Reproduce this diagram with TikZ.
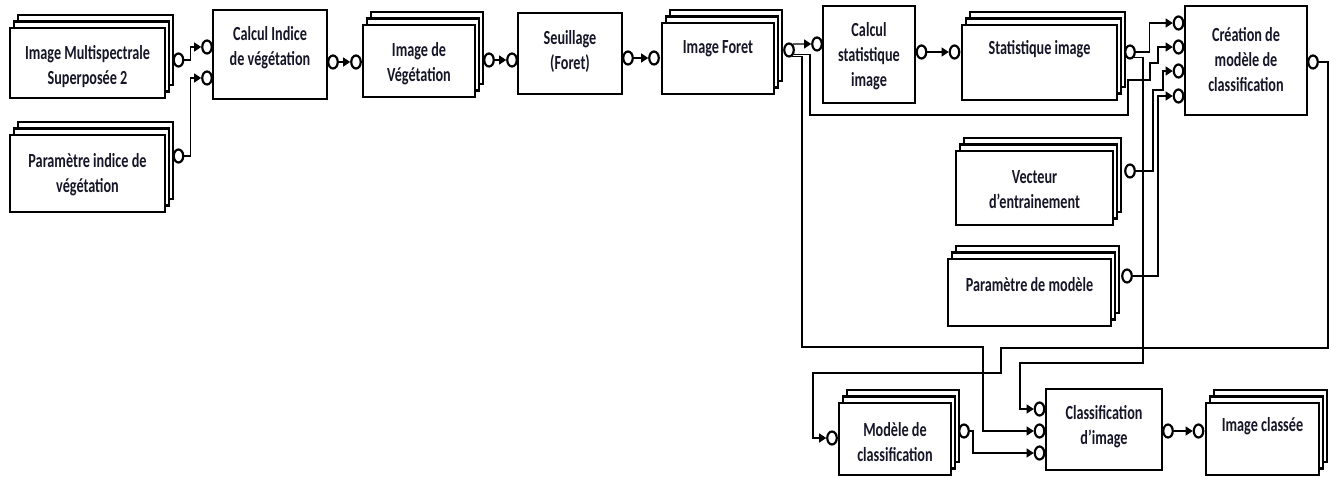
\documentclass[tikz,border=0pt]{standalone}
\usepackage{fontspec}
\setmainfont{Carlito}[FakeStretch=0.71]
\usetikzlibrary{arrows.meta,shapes.geometric,shadows}
\definecolor{txtc}{RGB}{22,22,40}
\begin{document}
\begin{tikzpicture}[x=1pt,y=-1pt,
  stackbox/.style={draw=black, fill=white, line width=2.1pt, inner sep=0pt,
    copy shadow={shadow xshift=8pt, shadow yshift=13pt, draw=black, fill=white, line width=2.1pt},
    copy shadow={shadow xshift=4pt, shadow yshift=6.5pt, draw=black, fill=white, line width=2.1pt}},
  procbox/.style={draw=black, fill=white, line width=1.2pt, inner sep=0pt},
  port/.style={ellipse, draw=black, fill=white, line width=2.2pt, minimum width=9.5pt, minimum height=13pt, inner sep=0pt},
  conn/.style={line width=1.2pt, -{Triangle[length=7pt,width=9pt]}},
  lbl/.style={font=\bfseries\fontsize{20}{25}\selectfont, text=txtc, align=center, inner sep=0pt}
]
\useasboundingbox (0,0) rectangle (1329,478);

% ---------- boxes ----------
\node[stackbox, minimum width=155pt, minimum height=70pt] (ims)  at (87.5,63) {};
\node[stackbox, minimum width=155pt, minimum height=77pt] (pidv) at (87.5,173.5) {};
\node[procbox,  minimum width=114pt, minimum height=89pt] (civ)  at (270,54.5) {};
\node[stackbox, minimum width=112pt, minimum height=72pt] (imv)  at (419,61) {};
\node[procbox,  minimum width=104pt, minimum height=81pt] (seuil) at (570,53.5) {};
\node[stackbox, minimum width=112pt, minimum height=71pt] (ifo)  at (718,58.5) {};
\node[procbox,  minimum width=92pt,  minimum height=97pt] (cst)  at (869,54.5) {};
\node[stackbox, minimum width=155pt, minimum height=75pt] (sti)  at (1039.5,62.5) {};
\node[procbox,  minimum width=122pt, minimum height=109pt] (cre) at (1246,60.5) {};
\node[stackbox, minimum width=157pt, minimum height=74pt] (vec)  at (1034.5,188) {};
\node[stackbox, minimum width=163pt, minimum height=67pt] (pm)   at (1029.5,292.5) {};
\node[stackbox, minimum width=112pt, minimum height=72pt] (mod)  at (895,439) {};
\node[procbox,  minimum width=116pt, minimum height=81pt] (cls)  at (1104,429.5) {};
\node[stackbox, minimum width=113pt, minimum height=72pt] (imc)  at (1262.5,439) {};

% ---------- texts ----------
\node[lbl] (ims-t)  at (87.5,67)    {Image Multispectrale\\Superposée 2};
\node[lbl] (pidv-t) at (87.5,175)   {Paramètre indice de\\végétation};
\node[lbl] (civ-t)  at (270,48)     {Calcul Indice\\de végétation};
\node[lbl] (imv-t)  at (419,64)     {Image de\\Végétation};
\node[lbl] (seuil-t) at (570,52)    {Seuillage\\(Foret)};
\node[lbl] (ifo-t)  at (718,48.5)   {Image Foret};
\node[lbl] (cst-t)  at (869,56.5)   {Calcul\\statistique\\image};
\node[lbl] (sti-t)  at (1039.5,49.5) {Statistique image};
\node[lbl] (cre-t)  at (1246,59.5)  {Création de\\modèle de\\classification};
\node[lbl] (vec-t)  at (1034.5,189.5) {Vecteur\\d’entrainement};
\node[lbl] (pm-t)   at (1029.5,284.5) {Paramètre de modèle};
\node[lbl] (mod-t)  at (895,442.5)  {Modèle de\\classification};
\node[lbl] (cls-t)  at (1104,426.5) {Classification\\d’image};
\node[lbl] (imc-t)  at (1262.5,426.5) {Image classée};

% ---------- ports ----------
\node[port] (ims-out)  at (178.5,60) {};
\node[port] (pidv-out) at (178.5,156) {};
\node[port] (civ-in1)  at (207,47) {};
\node[port] (civ-in2)  at (207,78) {};
\node[port] (civ-out)  at (333,62) {};
\node[port] (imv-in)   at (356,62) {};
\node[port] (imv-out)  at (489,60) {};
\node[port] (seuil-in) at (512,60) {};
\node[port] (seuil-out) at (628,58) {};
\node[port] (ifo-in)   at (654,58) {};
\node[port] (ifo-out)  at (789,50) {};
\node[port] (cst-in)   at (817,44) {};
\node[port] (cst-out)  at (921.5,52) {};
\node[port] (sti-in)   at (954.5,52) {};
\node[port] (sti-out)  at (1130,52) {};
\node[port] (cre-in1)  at (1178.5,23) {};
\node[port] (cre-in2)  at (1178.5,47) {};
\node[port] (cre-in3)  at (1178.5,71) {};
\node[port] (cre-in4)  at (1178.5,96) {};
\node[port] (cre-out)  at (1313,62) {};
\node[port] (vec-out)  at (1130,171) {};
\node[port] (pm-out)   at (1127,276) {};
\node[port] (mod-in)   at (832,438) {};
\node[port] (mod-out)  at (964,431) {};
\node[port] (cls-in1)  at (1039.5,409) {};
\node[port] (cls-in2)  at (1039.5,431) {};
\node[port] (cls-in3)  at (1039.5,453) {};
\node[port] (cls-out)  at (1168,431) {};
\node[port] (imc-in)   at (1198.5,431) {};

% ---------- connectors ----------
\draw[conn] (ims-out.east) -- ++(6,0) |- (civ-in1.west);
\draw[conn] (pidv-out.east) -- ++(6,0) |- (civ-in2.west);
\draw[conn] (civ-out) -- (imv-in);
\draw[conn] (imv-out) -- (seuil-in);
\draw[conn] (seuil-out) -- (ifo-in);
\draw[conn] (ifo-out.60) -- (cst-in.west);
\draw[conn] (ifo-out.-70) -| (802,347) -- (983,347) |- (cls-in2.west);
\draw[conn] (ifo-out.-40) -| (810,115) -- (1128,115) -- (1128,80) -- (1150,80) -- (1150,63) -- (1158,63) |- (cre-in2.west);
\draw[conn] (cst-out) -- (sti-in);
\draw[conn] (sti-out.east) -- ++(14,0) |- (cre-in1.west);
\draw[conn] (sti-out.-50) -| (1143,363) -- (1020,363) |- (cls-in1.west);
\draw[conn] (vec-out.east) -- (1153,171) -- (1153,90) -- (1163,90) |- (cre-in3.west);
\draw[conn] (pm-out.east) -- (1158,276) |- (cre-in4.west);
\draw[conn] (cre-out.east) -- (1328,62) -- (1328,348) -- (1001,348) -- (1001,373) -- (813,373) |- (mod-in.west);
\draw[conn] (mod-out.east) -- (973,431) |- (cls-in3.west);
\draw[conn] (cls-out) -- (imc-in);
\end{tikzpicture}
\end{document}
